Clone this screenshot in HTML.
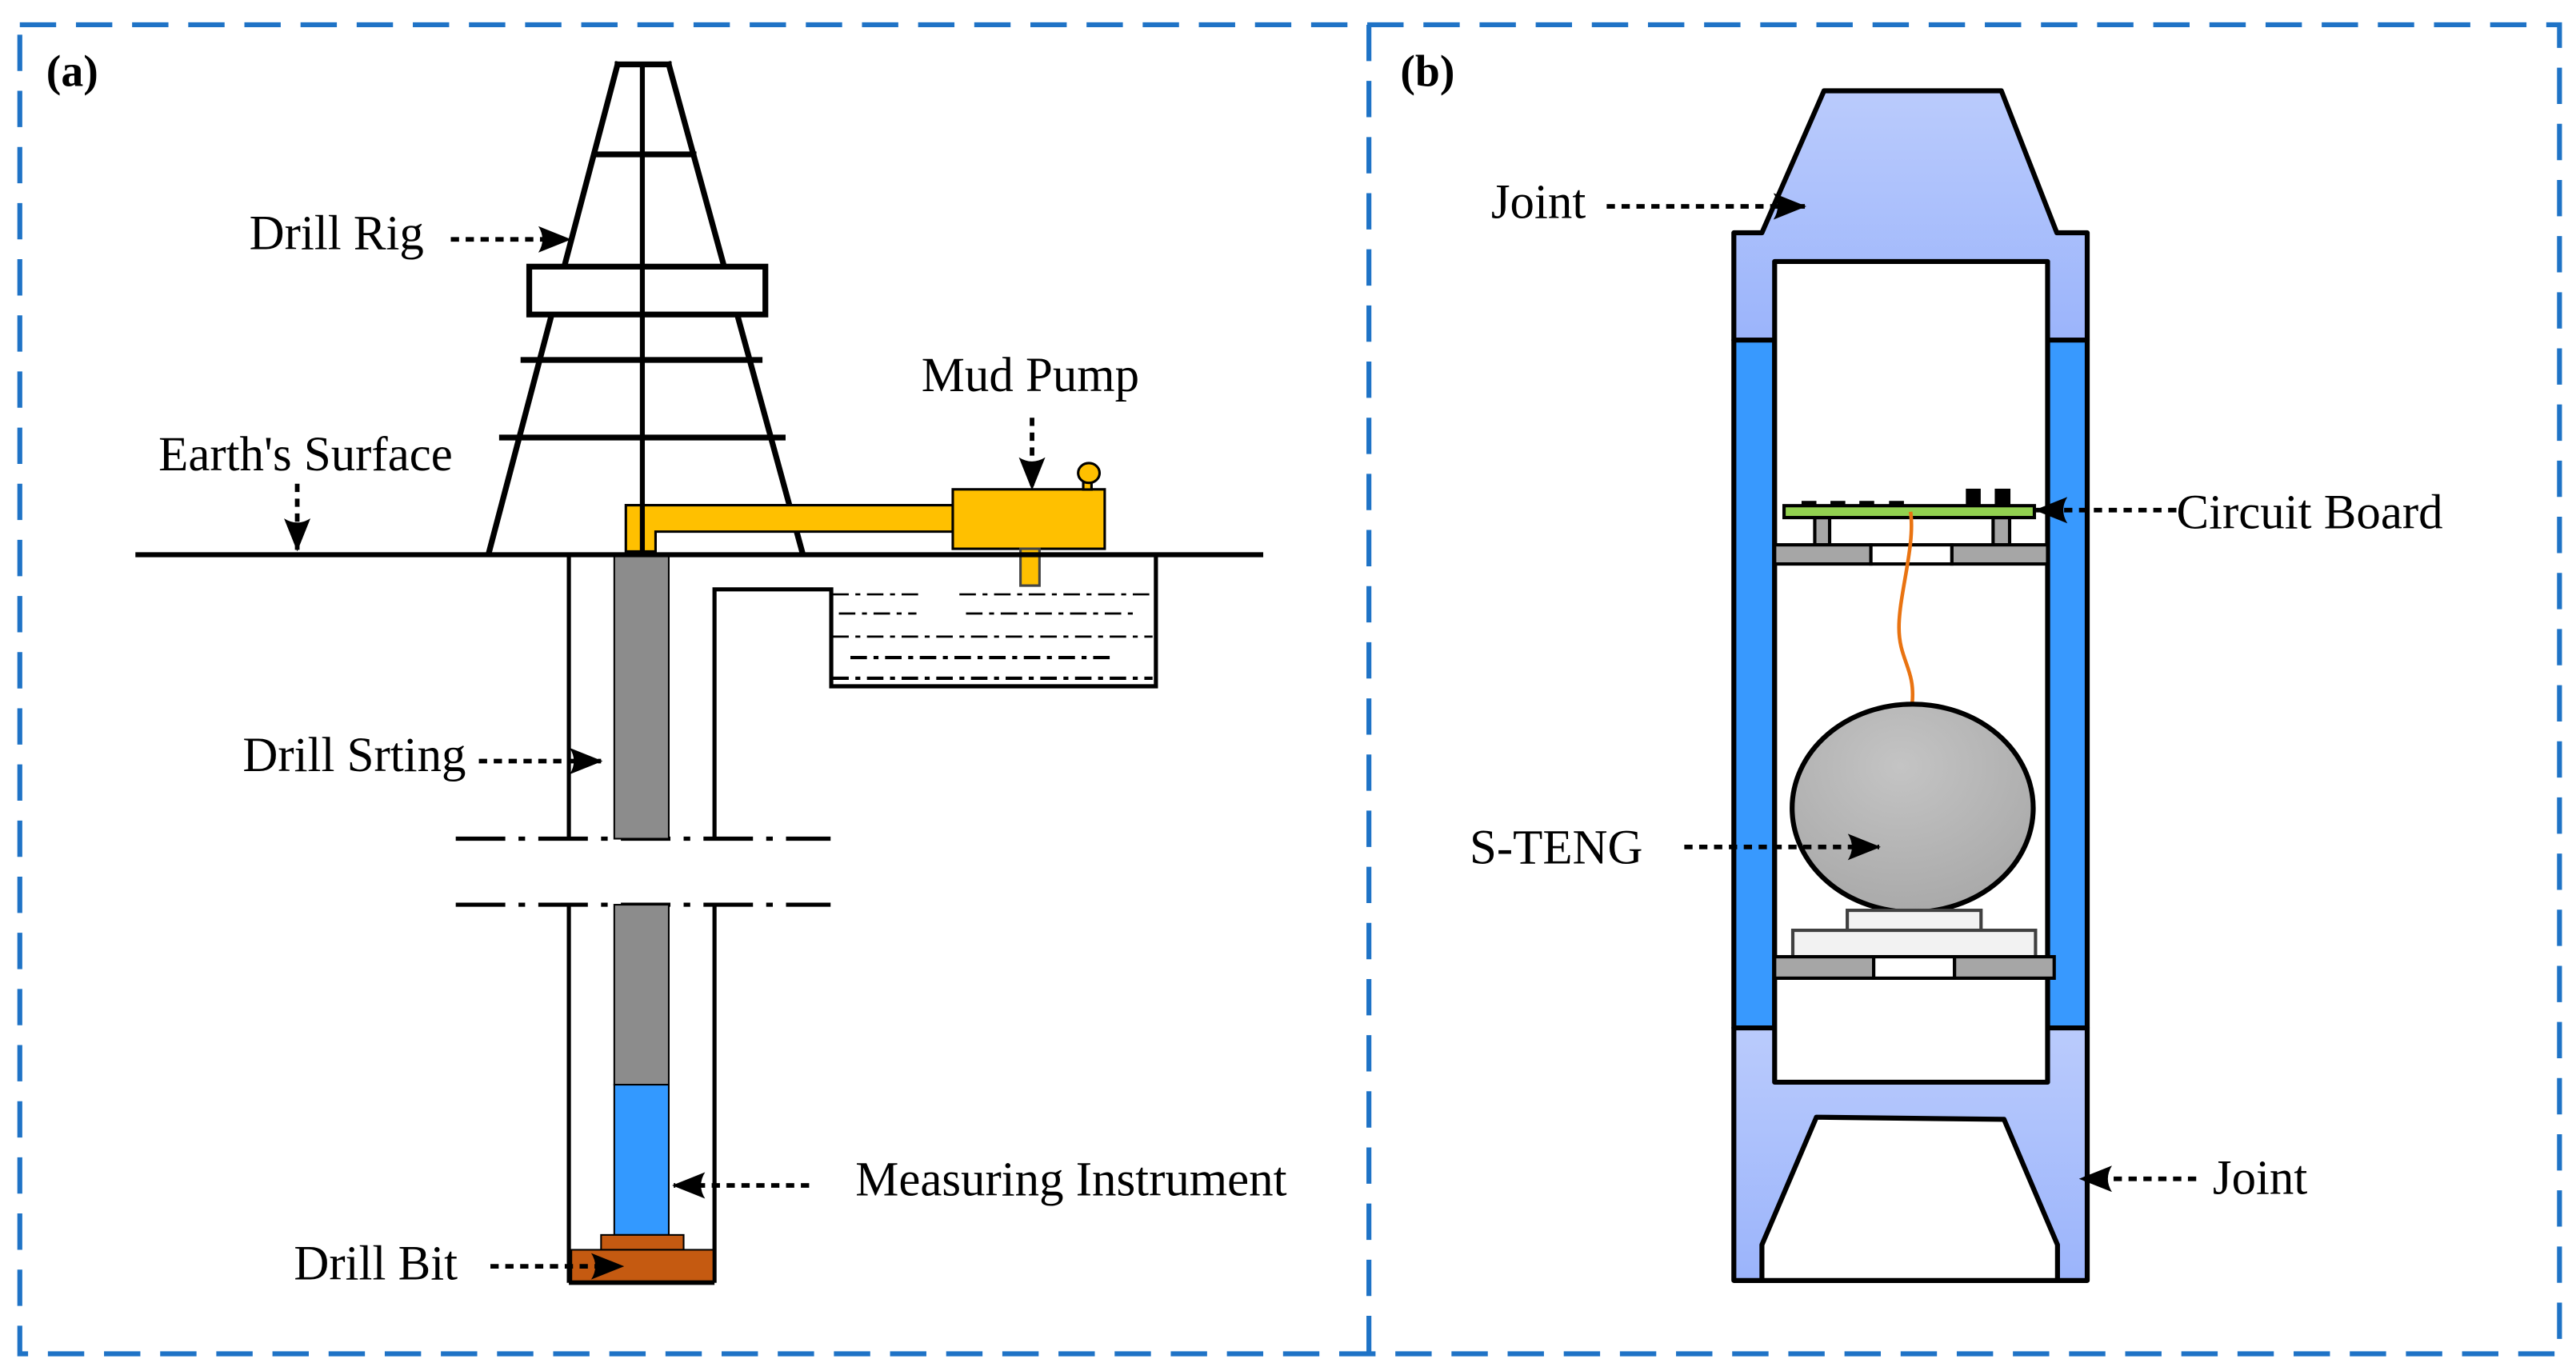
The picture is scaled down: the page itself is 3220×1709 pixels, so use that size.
<!DOCTYPE html>
<html><head><meta charset="utf-8"><style>html,body{margin:0;padding:0;background:#fff}svg{display:block}</style></head>
<body>
<svg width="3220" height="1709" viewBox="0 0 1560 828" preserveAspectRatio="none" xmlns="http://www.w3.org/2000/svg" font-family="'Liberation Serif', serif" font-size="29.5">
<defs>
<marker id="ah" viewBox="0 0 20 16" refX="19" refY="8" markerWidth="20" markerHeight="16" markerUnits="userSpaceOnUse" orient="auto">
<path d="M0,0 L20,8 L0,16 Q5,8 0,0 Z" fill="#000"/>
</marker>
<linearGradient id="jg" x1="0" y1="0" x2="0" y2="1"><stop offset="0" stop-color="#bacbfc"/><stop offset="1" stop-color="#9bb4fb"/></linearGradient>
<radialGradient id="eg" cx="0.45" cy="0.3" r="0.8"><stop offset="0" stop-color="#c4c4c4"/><stop offset="1" stop-color="#a6a6a6"/></radialGradient>
</defs>
<g fill="none" stroke="#1f73c6" stroke-width="3" stroke-dasharray="22,12">
<rect x="12" y="15" width="1538" height="805"/>
<line x1="829" y1="15" x2="829" y2="820"/>
</g>
<text x="28" y="52" font-weight="bold" font-size="27">(a)</text>
<text x="848" y="52" font-weight="bold" font-size="27">(b)</text>

<g stroke="#000" stroke-width="3.5" fill="none" stroke-linecap="square">
<line x1="374" y1="39" x2="405" y2="39"/>
<line x1="374" y1="39" x2="296" y2="335"/>
<line x1="405" y1="39" x2="486" y2="335"/>
<line x1="360" y1="93.5" x2="420" y2="93.5"/>
<line x1="317" y1="218" x2="460" y2="218"/>
<line x1="304" y1="265" x2="474" y2="265"/>
</g>
<g stroke="#000" stroke-width="1.5">
<path d="M379,306 L577,306 L577,322 L397,322 L397,334 L379,334 Z" fill="#ffc000"/>
<rect x="577" y="296.4" width="92" height="36" fill="#ffc000"/>
<rect x="618" y="332.4" width="11.5" height="22.3" fill="#ffc000" stroke="#444"/>
<rect x="656" y="292" width="5" height="4.5" fill="#ffc000"/>
<ellipse cx="659.4" cy="286.5" rx="6.5" ry="6" fill="#ffc000"/>
</g>
<rect x="320.5" y="161.5" width="143" height="29" fill="#fff" stroke="#000" stroke-width="3.5"/>
<line x1="389" y1="39" x2="389" y2="336" stroke="#000" stroke-width="3"/>
<line x1="82" y1="336" x2="765" y2="336" stroke="#000" stroke-width="3"/>
<g stroke="#000" stroke-width="2.5" fill="none">
<line x1="344.5" y1="336" x2="344.5" y2="508"/>
<line x1="344.5" y1="548" x2="344.5" y2="777"/>
<polyline points="432.7,508 432.7,357 503.4,357 503.4,415.7 700,415.7 700,336"/>
<line x1="432.7" y1="548" x2="432.7" y2="777"/>
<line x1="344.5" y1="777" x2="432.7" y2="777"/>
</g>
<g stroke="#000" stroke-width="1.3" stroke-dasharray="10,4,3,4">
<line x1="504" y1="360" x2="559" y2="360"/><line x1="581" y1="360" x2="698" y2="360"/>
<line x1="508" y1="371.6" x2="555" y2="371.6"/><line x1="585" y1="371.6" x2="690" y2="371.6"/>
<line x1="504" y1="385.6" x2="698" y2="385.6"/>
<line x1="515" y1="398.3" x2="673" y2="398.3" stroke-width="2"/>
<line x1="504" y1="410.8" x2="698" y2="410.8" stroke-width="2"/>
</g>
<g stroke="#000" stroke-width="2.5" stroke-dasharray="30,8,4,8">
<line x1="276" y1="508" x2="503" y2="508"/>
<line x1="276" y1="548" x2="503" y2="548"/>
</g>
<g stroke="#000" stroke-width="1">
<rect x="372" y="337" width="33" height="171" fill="#8c8c8c"/>
<rect x="372" y="548" width="33" height="109" fill="#8c8c8c"/>
<rect x="372" y="657" width="33" height="91" fill="#3399ff"/>
<rect x="364" y="748" width="50" height="9" fill="#c55a11"/>
<rect x="346" y="757" width="86" height="19" fill="#c55a11"/>
</g>

<g stroke="#000" stroke-width="2.8" stroke-dasharray="5,4" fill="none" marker-end="url(#ah)">
<line x1="273" y1="145" x2="345" y2="145"/>
<line x1="180" y1="293" x2="180" y2="333"/>
<line x1="625" y1="253" x2="625" y2="296"/>
<line x1="290" y1="461" x2="364" y2="461"/>
<line x1="490" y1="718" x2="408" y2="718"/>
<line x1="297" y1="767" x2="377" y2="767"/>
</g>
<text x="151" y="151">Drill Rig</text>
<text x="96" y="285">Earth's Surface</text>
<text x="558" y="237">Mud Pump</text>
<text x="147" y="467">Drill Srting</text>
<text x="518" y="724">Measuring Instrument</text>
<text x="178" y="775">Drill Bit</text>

<g stroke="#000" stroke-width="3" stroke-linejoin="round">
<path d="M1104.6,55 L1212,55 L1245.6,141 L1264,141 L1264,206 L1050,206 L1050,141 L1067,141 Z" fill="url(#jg)"/>
<rect x="1050" y="206" width="24.7" height="416.6" fill="#3899fe"/>
<rect x="1240" y="206" width="24" height="416.6" fill="#3899fe"/>
<path d="M1050,622.6 L1264,622.6 L1264,775.6 L1050,775.6 Z" fill="url(#jg)"/>
<rect x="1074.7" y="158.4" width="165.3" height="497.1" fill="#fff"/>
<path d="M1100,676.7 L1213.6,678 L1246,754 L1246,775.6 L1067,775.6 L1067,754 Z" fill="#fff"/>
</g>
<g stroke="#000" stroke-width="2">
<rect x="1099" y="313.5" width="9" height="16.5" fill="#a6a6a6"/>
<rect x="1207" y="313.5" width="10" height="16.5" fill="#a6a6a6"/>
<rect x="1074.7" y="330" width="58.3" height="11.6" fill="#a6a6a6"/>
<rect x="1182" y="330" width="58" height="11.6" fill="#a6a6a6"/>
<rect x="1133" y="330" width="49" height="11.6" fill="#fff"/>
<rect x="1080.4" y="306.3" width="151.6" height="7.2" fill="#92d050"/>
</g>
<g fill="#000">
<rect x="1091" y="303.4" width="9" height="3"/><rect x="1108.5" y="303.4" width="9" height="3"/>
<rect x="1126" y="303.4" width="9" height="3"/><rect x="1144" y="303.4" width="9" height="3"/>
<rect x="1190.5" y="296" width="9" height="10.5"/><rect x="1208" y="296" width="9.5" height="10.5"/>
</g>
<path d="M1157,310 C1160,330 1150,360 1150,380 C1150,400 1160,405 1158,426" fill="none" stroke="#e97311" stroke-width="2.2"/>
<ellipse cx="1158.3" cy="489.5" rx="73" ry="63" fill="url(#eg)" stroke="#000" stroke-width="3"/>
<g stroke="#404040" stroke-width="2">
<rect x="1118.7" y="551.4" width="81" height="12.1" fill="#f2f2f2"/>
<rect x="1085.7" y="563.5" width="147" height="16" fill="#f2f2f2"/>
</g>
<g stroke="#000" stroke-width="2">
<rect x="1074.7" y="579.5" width="60" height="13" fill="#a6a6a6"/>
<rect x="1183.6" y="579.5" width="60.4" height="13" fill="#a6a6a6"/>
<rect x="1134.7" y="579.5" width="48.9" height="13" fill="#fff"/>
</g>
<g stroke="#000" stroke-width="2.8" stroke-dasharray="5,4" fill="none" marker-end="url(#ah)">
<line x1="973" y1="125" x2="1093" y2="125"/>
<line x1="1318" y1="309" x2="1233" y2="309"/>
<line x1="1020" y1="513" x2="1138" y2="513"/>
<line x1="1330" y1="714" x2="1260" y2="714"/>
</g>
<text x="903" y="132">Joint</text>
<text x="1318" y="320">Circuit Board</text>
<text x="890" y="523">S-TENG</text>
<text x="1340" y="723">Joint</text>
</svg>
</body></html>
